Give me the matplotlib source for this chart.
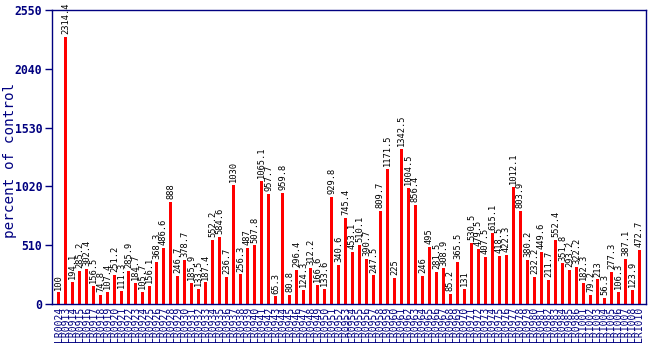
import matplotlib
matplotlib.use("Agg")
import matplotlib.pyplot as plt

# Sample identifiers along the x axis
samples = (["LR0024"]
           + ["LR%04d" % n for n in [913, 914, 915, 916, 917, 918, 919, 920, 921, 922,
                                      923, 924, 925, 926, 927, 928, 929, 930, 931, 932,
                                      933, 934, 935, 936, 937, 938, 939, 940, 941, 942,
                                      943, 944, 945, 946, 947, 948, 949, 950, 951, 952,
                                      953, 954, 955, 956, 957, 958, 959, 960, 961, 962,
                                      963, 964, 965, 966, 967, 968, 969, 970, 971, 972,
                                      973, 974, 975, 976, 977, 978, 979, 980, 981, 982,
                                      983, 984, 985, 986,
                                      1001, 1002, 1003, 1004, 1005, 1006, 1007, 1008, 1010]])

# Response as percent of control
values = [100, 2314.4, 194.1, 285.2, 302.4, 156.5, 74.8, 107.4, 251.2, 111.3,
          285.9, 184.7, 105.7, 156.1, 368.3, 486.6, 888, 246.7, 378.7, 185.9,
          133.5, 187.4, 552.2, 584.6, 236.7, 1030, 256.3, 487, 507.8, 1065.1,
          957.7, 65.3, 959.8, 80.8, 296.4, 124.3, 312.2, 166.6, 133.6, 929.8,
          340.6, 745.4, 453.1, 510.1, 390.7, 247.5, 809.7, 1171.5, 225, 1342.5,
          1004.5, 856.4, 246, 495, 281.5, 308.9, 85.2, 365.5, 131, 530.5,
          479.5, 407.5, 615.1, 418.5, 422.3, 1012.1, 803.9, 380.2, 232.2, 449.6,
          211.7, 552.4, 351.8, 293.2, 322.2, 182.3, 79.2, 213, 56.3, 277.3,
          106.3, 387.1, 123.9, 472.7]

yticks = [0, 510, 1020, 1530, 2040, 2550]

n = min(len(samples), len(values))
samples = samples[:n]
values = values[:n]

navy = "#000080"
mono = "DejaVu Sans Mono"

fig = plt.figure(figsize=(6.5, 3.5), dpi=100)
ax = fig.add_axes([52 / 650, 46 / 350, 594 / 650, 294 / 350])

xs = list(range(n))
ax.bar(xs, values, width=0.43, color="#ff0000", zorder=2)

for x, v in zip(xs, values):
    ax.text(x, v + 25, "%g" % v, rotation=90, ha="center", va="bottom",
            fontsize=6.3, family=mono, color="black")

ax.set_xlim(-0.93, n - 1 + 0.93)
ax.set_ylim(0, 2550)
ax.set_yticks(yticks)
ax.set_yticklabels([str(t) for t in yticks], family=mono, fontweight="bold",
                   fontsize=8.3, color=navy)
ax.set_xticks(xs)
ax.set_xticklabels(samples, rotation=90, family=mono, fontsize=7, color=navy)
ax.tick_params(axis="x", length=0, pad=2)
ax.tick_params(axis="y", length=5, width=1, color=navy, pad=2)

for s in ax.spines.values():
    s.set_color(navy)
    s.set_linewidth(1)

ax.set_ylabel("percent of control", family=mono, fontsize=10.3, color=navy,
              va="center")
ax.yaxis.set_label_coords(-0.07, 0.49)

fig.savefig("out.png", dpi=100)
